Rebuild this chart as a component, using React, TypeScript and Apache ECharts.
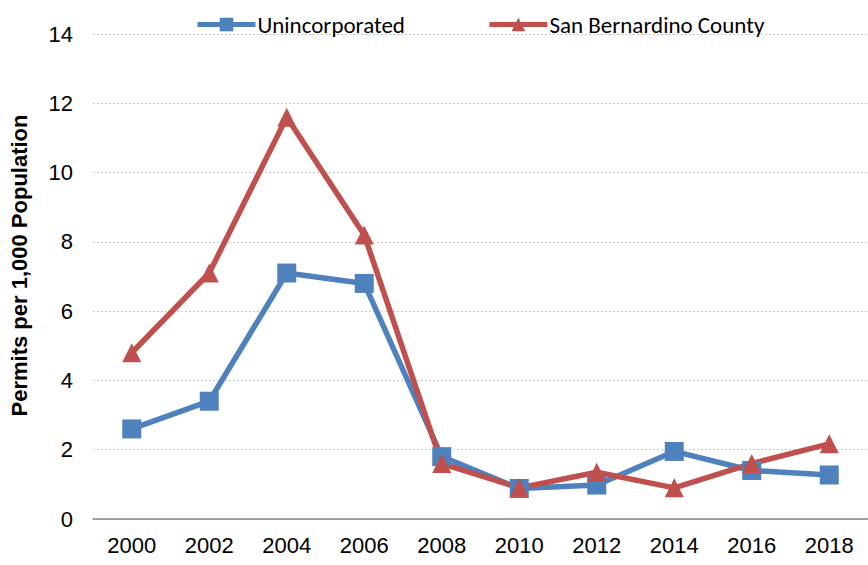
import React, { useEffect, useRef } from "react";
import * as echarts from "echarts";

const years = ["2000", "2002", "2004", "2006", "2008", "2010", "2012", "2014", "2016", "2018"];
const unincorporated = [2.6, 3.4, 7.1, 6.8, 1.8, 0.88, 0.98, 1.95, 1.4, 1.27];
const county = [4.8, 7.1, 11.6, 8.2, 1.6, 0.9, 1.35, 0.9, 1.6, 2.17];

const SANS = "'Liberation Sans Narrow', 'Arial Narrow', 'Liberation Sans', Arial, sans-serif";

export default function App() {
  const ref = useRef<HTMLDivElement>(null);
  useEffect(() => {
    const chart = echarts.init(ref.current!, null, { renderer: "svg" });
    chart.setOption({
      animation: false,
      backgroundColor: "#ffffff",
      legend: {
        top: 8,
        left: 190,
        itemWidth: 58,
        itemHeight: 17,
        itemGap: 82,
        lineStyle: { width: 5 },
        textStyle: { fontFamily: "Carlito, Calibri, 'Open Sans', sans-serif", fontSize: 23, color: "#000", padding: [0, 0, 0, -3] },
        data: ["Unincorporated", "San Bernardino County"],
      },
      grid: { left: 93, top: 34, bottom: 46, width: 782 },
      xAxis: {
        type: "category",
        data: years,
        boundaryGap: true,
        axisLine: { lineStyle: { color: "#868686", width: 1.5 } },
        axisTick: { show: false },
        axisLabel: { fontFamily: SANS, fontSize: 22, color: "#000", margin: 15 },
      },
      yAxis: {
        type: "value",
        min: 0,
        max: 14,
        interval: 2,
        name: "Permits per 1,000 Population",
        nameLocation: "middle",
        nameGap: 63,
        nameTextStyle: {
          fontFamily: SANS,
          fontSize: 22,
          fontWeight: "bold",
          color: "#000",
          padding: [0, 0, 0, 22],
        },
        axisLine: { show: false },
        axisTick: { show: false },
        axisLabel: { fontFamily: SANS, fontSize: 22, color: "#000", margin: 20 },
        splitLine: { lineStyle: { color: "#c8c8c8", type: [2, 2], width: 1 } },
      },
      series: [
        {
          name: "Unincorporated",
          type: "line",
          data: unincorporated,
          symbol: "rect",
          symbolSize: 19,
          lineStyle: { width: 5.5, color: "#4F81BD" },
          itemStyle: { color: "#4F81BD" },
        },
        {
          name: "San Bernardino County",
          type: "line",
          data: county,
          symbol: "triangle",
          symbolSize: 19,
          lineStyle: { width: 5.5, color: "#C0504D" },
          itemStyle: { color: "#C0504D" },
        },
      ],
    });
    return () => chart.dispose();
  }, []);
  return (
    <div
      ref={ref}
      style={{ position: "fixed", left: 0, top: 0, width: 868, height: 565, overflow: "hidden" }}
    />
  );
}
